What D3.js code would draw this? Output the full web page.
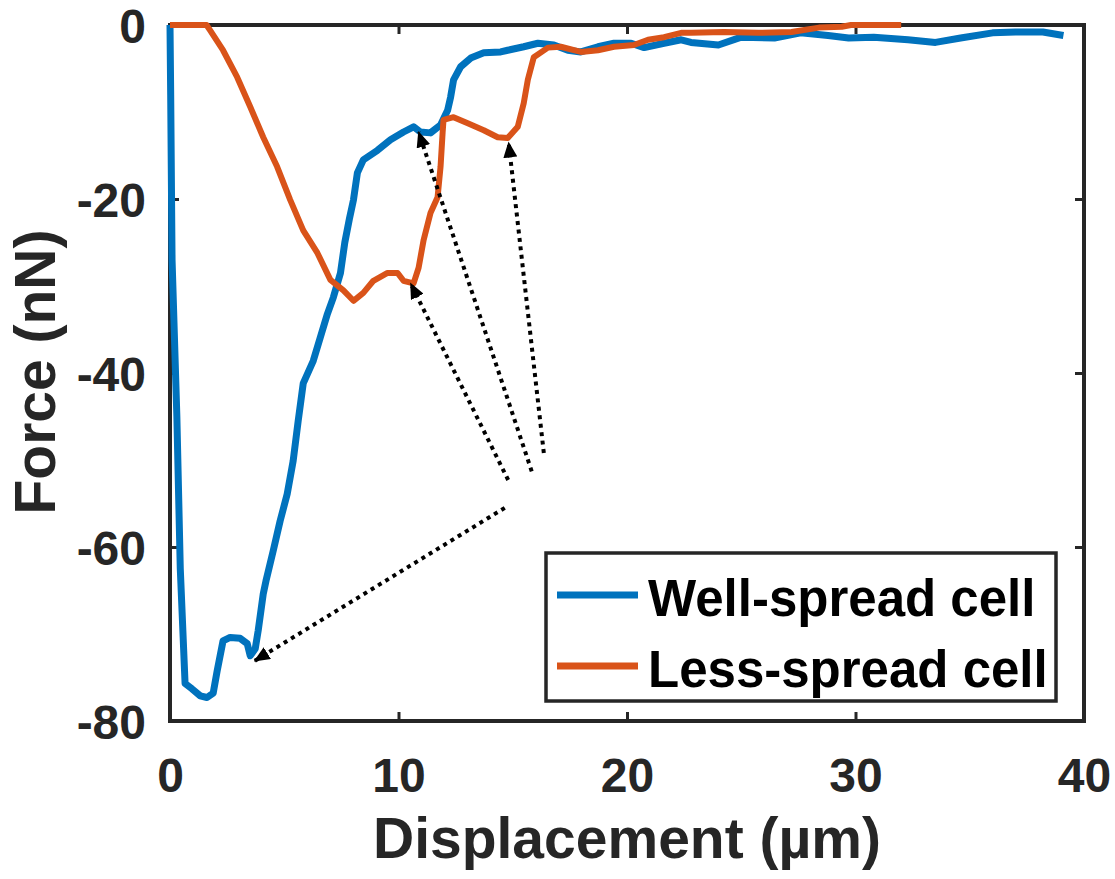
<!DOCTYPE html>
<html lang="en">

<head>
  <meta charset="UTF-8">
  <title>force-displacement</title>
  <script src="https://d3js.org/d3.v7.min.js"></script>
  <style>
    body { margin: 0; background: #fff; }
    text { font-family: "Liberation Sans", Arial, sans-serif; font-weight: bold; }
  </style>
</head>

<body>

  <div id="chart"></div>

  <script>
    // displacement in um, force in nN
    var wellX = [0, 0.03, 0.09, 0.3, 0.45, 0.66, 0.96, 1.32, 1.62, 1.89, 2.06, 2.32, 2.63, 3.07, 3.38, 3.51, 3.73, 3.86,
      4.08, 4.2, 4.52, 4.82, 5.13, 5.39, 5.61, 5.83, 6.27, 6.58, 6.89, 7.15, 7.46, 7.65, 7.85, 8.03, 8.2, 8.46, 9.08,
      9.65, 10.22, 10.66, 10.96, 11.4, 11.84, 12.15, 12.28, 12.41, 12.72, 13.16, 13.73, 14.47, 14.78, 15.48, 16.1,
      16.8, 17.41, 17.98, 18.73, 19.43, 20.18, 20.75, 21.62, 22.37, 22.8, 24.0, 25.0, 26.45, 27.6, 28.8, 29.7, 30.8,
      32.3, 33.5, 34.6, 36.0, 37.0, 38.2, 39.1];
    var wellY = [0, -8, -27, -45, -62.5, -75.7, -76.3, -77.1, -77.3, -76.8, -74.3, -70.8, -70.4, -70.5, -71.1, -72.5,
      -71.7, -69.6, -65.4, -63.9, -60.4, -57, -53.9, -50.1, -45.5, -41.2, -38.6, -35.9, -33.2, -31.3, -28.5, -25,
      -22.3, -20.1, -17, -15.5, -14.4, -13.2, -12.3, -11.7, -12.3, -12.4, -11.5, -9.8, -8.3, -6.3, -4.8, -3.8, -3.2,
      -3.1, -2.9, -2.5, -2.1, -2.3, -2.9, -3.1, -2.5, -2.1, -2.1, -2.6, -2.1, -1.7, -2.0, -2.3, -1.4, -1.5, -0.9,
      -1.2, -1.5, -1.4, -1.7, -2.0, -1.5, -0.9, -0.8, -0.8, -1.2];

    var lessX = [0, 1.6, 1.75, 2.32, 2.94, 3.51, 4.08, 4.69, 5.26, 5.83, 6.45, 7.02, 7.59, 8.03, 8.46, 8.9, 9.52, 9.96,
      10.22, 10.66, 10.88, 11.1, 11.4, 11.71, 11.84, 11.93, 11.97, 12.41, 13.03, 13.73, 14.34, 14.78, 15.22, 15.48,
      15.66, 15.92, 16.54, 17.1, 17.98, 18.73, 19.43, 20.3, 20.92, 21.62, 22.37, 22.8, 24.25, 25.75, 27.2, 28.4,
      29.4, 29.8, 32.0];
    var lessY = [0, 0, -0.6, -2.9, -6.0, -9.4, -12.9, -16.3, -20.1, -23.6, -26.2, -29.3, -30.5, -31.7, -30.8, -29.4,
      -28.5, -28.5, -29.4, -29.7, -27.9, -24.7, -21.6, -19.8, -16.3, -12.4, -10.9, -10.6, -11.3, -12.1, -12.9, -13.0,
      -11.7, -9.0, -6.3, -3.7, -2.6, -2.5, -3.1, -2.9, -2.5, -2.3, -1.7, -1.4, -0.9, -0.9, -0.8, -0.9, -0.8, -0.3,
      -0.2, 0, 0];

    var seriesNames = ["Well-spread cell", "Less-spread cell"];
    var xTicks = [0, 10, 20, 30, 40];
    var yTicks = [0, -20, -40, -60, -80];

    // dotted arrows, tail -> head, in data units
    var arrowFrom = [[14.65, -55.5], [14.8, -52.3], [15.83, -51.3], [16.36, -49.2]];
    var arrowTo = [[3.7, -73.1], [10.53, -29.7], [10.88, -12.3], [14.82, -13.5]];

    var width = 1115, height = 879;
    var ink = "#262626";

    var svg = d3.select("#chart").append("svg")
      .attr("width", width)
      .attr("height", height);

    var x = d3.scaleLinear().domain([0, 40]).range([170, 1084]);
    var y = d3.scaleLinear().domain([-80, 0]).range([721, 25]);

    // plain hyphen like the original, not the unicode minus
    var fmt = function (d) { return String(d); };

    // axes box with inward ticks on all four sides
    function styleAxis(g) {
      g.select(".domain").remove();
      g.selectAll(".tick line").attr("stroke", ink).attr("stroke-width", 3);
      g.selectAll(".tick text").attr("fill", ink);
    }

    svg.append("g")
      .attr("transform", "translate(0," + y(-80) + ")")
      .call(d3.axisBottom(x).tickValues(xTicks).tickFormat(fmt).tickSize(-9).tickPadding(0))
      .call(styleAxis)
      .call(function (g) {
        g.selectAll(".tick text").attr("font-size", 48).attr("dy", null).attr("y", 71);
      });

    svg.append("g")
      .attr("transform", "translate(0," + y(0) + ")")
      .call(d3.axisTop(x).tickValues(xTicks).tickSize(-9).tickFormat(""))
      .call(styleAxis);

    svg.append("g")
      .attr("transform", "translate(" + x(0) + ",0)")
      .call(d3.axisLeft(y).tickValues(yTicks).tickFormat(fmt).tickSize(-9).tickPadding(24))
      .call(styleAxis)
      .call(function (g) {
        g.selectAll(".tick text").attr("font-size", 48).attr("dy", "0.36em");
      });

    svg.append("g")
      .attr("transform", "translate(" + x(40) + ",0)")
      .call(d3.axisRight(y).tickValues(yTicks).tickSize(-9).tickFormat(""))
      .call(styleAxis);

    svg.append("rect")
      .attr("x", x(0))
      .attr("y", y(0))
      .attr("width", x(40) - x(0))
      .attr("height", y(-80) - y(0))
      .attr("fill", "none")
      .attr("stroke", ink)
      .attr("stroke-width", 4);

    // axis titles
    svg.append("text")
      .attr("x", (x(0) + x(40)) / 2)
      .attr("y", 858)
      .attr("text-anchor", "middle")
      .attr("font-size", 57)
      .attr("fill", ink)
      .text("Displacement (\u00b5m)");

    svg.append("text")
      .attr("transform", "translate(55," + 372 + ") rotate(-90)")
      .attr("text-anchor", "middle")
      .attr("font-size", 57)
      .attr("fill", ink)
      .text("Force (nN)");

    // curves
    var line = d3.line()
      .x(function (d) { return x(d[0]); })
      .y(function (d) { return y(d[1]); });

    var well = d3.zip(wellX, wellY);
    var less = d3.zip(lessX, lessY);
    var colors = ["#0072BD", "#D95319"];

    svg.append("path")
      .datum(well)
      .attr("d", line)
      .attr("fill", "none")
      .attr("stroke", colors[0])
      .attr("stroke-width", 7)
      .attr("stroke-linejoin", "round");

    svg.append("path")
      .datum(less)
      .attr("d", line)
      .attr("fill", "none")
      .attr("stroke", colors[1])
      .attr("stroke-width", 6)
      .attr("stroke-linejoin", "round");

    // arrows
    svg.append("defs").append("marker")
      .attr("id", "head")
      .attr("viewBox", "0 0 16 14")
      .attr("refX", 15)
      .attr("refY", 7)
      .attr("markerUnits", "userSpaceOnUse")
      .attr("markerWidth", 16)
      .attr("markerHeight", 14)
      .attr("orient", "auto")
      .append("path")
      .attr("d", "M0,0 L16,7 L0,14 Z")
      .attr("fill", "#000");

    svg.selectAll(".arrow")
      .data(d3.zip(arrowFrom, arrowTo))
      .enter().append("line")
      .attr("class", "arrow")
      .attr("x1", function (d) { return x(d[0][0]); })
      .attr("y1", function (d) { return y(d[0][1]); })
      .attr("x2", function (d) { return x(d[1][0]); })
      .attr("y2", function (d) { return y(d[1][1]); })
      .attr("stroke", "#000")
      .attr("stroke-width", 4)
      .attr("stroke-dasharray", "4,4.5")
      .attr("marker-end", "url(#head)");

    // legend
    var legend = svg.append("g");
    legend.append("rect")
      .attr("x", 546)
      .attr("y", 553)
      .attr("width", 510)
      .attr("height", 148)
      .attr("fill", "#fff")
      .attr("stroke", ink)
      .attr("stroke-width", 3.5);

    seriesNames.forEach(function (name, i) {
      var ly = 595 + i * 71;
      legend.append("line")
        .attr("x1", 557).attr("x2", 638)
        .attr("y1", ly).attr("y2", ly)
        .attr("stroke", colors[i])
        .attr("stroke-width", 7);
      legend.append("text")
        .attr("x", 648)
        .attr("y", ly + 21)
        .attr("font-size", 51)
        .attr("fill", "#000")
        .text(name);
    });
  </script>

</body>

</html>
